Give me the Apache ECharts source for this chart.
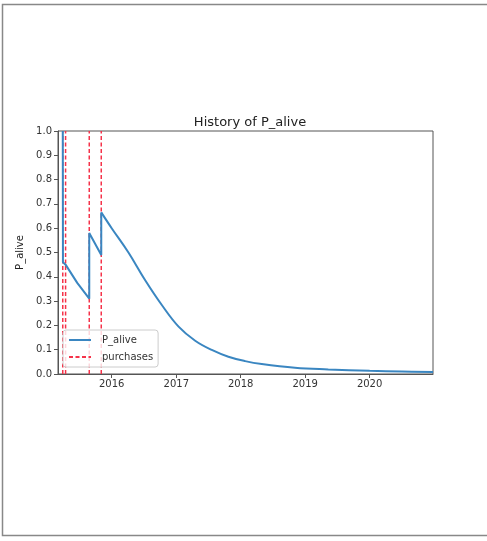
<!DOCTYPE html>
<html>
<head>
<meta charset="utf-8">
<script src="https://cdn.jsdelivr.net/npm/echarts@6/dist/echarts.min.js"></script>
<style>
html,body{margin:0;padding:0;background:#fff;}
#chart{width:487px;height:541px;}
</style>
</head>
<body>
<div id="chart"></div>
<script>
// P_alive history, segment between purchases (date, probability)
const aliveDatesEarly = [
  '2015-03-30', '2015-03-31', '2015-04-15', '2015-06-20', '2015-08-27',
  '2015-08-27', '2015-09-30', '2015-11-03', '2015-11-03'
];
const aliveValuesEarly = [
  1.0, 0.46, 0.45, 0.375, 0.31,
  0.58, 0.535, 0.49, 0.665
];
// P_alive decay after the last purchase
const aliveDatesTail = [
  '2015-11-03', '2016-01-01', '2016-04-05', '2016-07-08', '2016-10-11',
  '2017-01-14', '2017-04-18', '2017-07-21', '2017-10-23', '2018-01-26',
  '2018-04-30', '2018-11-04', '2019-05-12', '2020-01-01', '2020-07-01',
  '2020-12-25'
];
const aliveValuesTail = [
  0.665, 0.60, 0.50, 0.387, 0.284,
  0.195, 0.137, 0.099, 0.071, 0.053,
  0.041, 0.026, 0.019, 0.013, 0.010,
  0.008
];
// purchase dates
const purchaseDates = ['2015-03-30', '2015-04-15', '2015-08-27', '2015-11-03'];
const yTicks = ['0.0','0.1','0.2','0.3','0.4','0.5','0.6','0.7','0.8','0.9','1.0'];

const chart = echarts.init(document.getElementById('chart'));
const FONT = 'DejaVu Sans';
const blue = '#3a86c1';
const red = '#f5334a';

const series = [{
  name: 'P_alive',
  type: 'line',
  data: aliveDatesEarly.map((d, i) => [d, aliveValuesEarly[i]]),
  showSymbol: false,
  symbol: 'none',
  lineStyle: { color: blue, width: 2 },
  itemStyle: { color: blue },
  z: 3
}, {
  name: 'P_alive',
  type: 'line',
  data: aliveDatesTail.map((d, i) => [d, aliveValuesTail[i]]),
  showSymbol: false,
  symbol: 'none',
  smooth: 0.4,
  lineStyle: { color: blue, width: 2 },
  itemStyle: { color: blue },
  z: 3
}];
purchaseDates.forEach(d => {
  series.push({
    name: 'purchases',
    type: 'line',
    data: [[d, 0], [d, 1]],
    showSymbol: false,
    symbol: 'none',
    lineStyle: { color: red, width: 1.5, type: [4, 2.5] },
    itemStyle: { color: red },
    z: 2
  });
});

chart.setOption({
  animation: false,
  backgroundColor: '#fff',
  textStyle: { fontFamily: FONT },
  title: {
    text: 'History of P_alive',
    left: 245, textAlign: 'center',
    top: 111,
    textStyle: { fontFamily: FONT, fontSize: 13, fontWeight: 'normal', color: '#222' }
  },
  grid: { left: 58, right: 54, top: 131, bottom: 167, show: true, borderColor: '#555', borderWidth: 1 },
  legend: {
    orient: 'vertical',
    left: 63, top: 330,
    data: ['P_alive', 'purchases'],
    itemWidth: 22, itemHeight: 10, itemGap: 7,
    padding: [5, 5, 5, 5],
    backgroundColor: 'rgba(255,255,255,0.8)',
    borderColor: '#cccccc', borderWidth: 1, borderRadius: 3,
    itemStyle: { color: 'transparent', borderColor: 'transparent', borderWidth: 0 },
    textStyle: { fontFamily: FONT, fontSize: 10, color: '#333', padding: [0, 0, 0, 6] }
  },
  xAxis: {
    type: 'time',
    min: '2015-03-03', max: '2020-12-25',
    minInterval: 365 * 24 * 3600 * 1000,
    maxInterval: 366 * 24 * 3600 * 1000,
    axisLine: { show: true, lineStyle: { color: '#555' } },
    axisTick: { show: true, inside: false, length: 4, lineStyle: { color: '#555' } },
    axisLabel: {
      fontFamily: FONT, fontSize: 10, color: '#333', margin: 5,
      showMinLabel: false, showMaxLabel: false,
      formatter: function (v) {
        const d = new Date(v);
        return (d.getMonth() === 0 && d.getDate() === 1) ? String(d.getFullYear()) : '';
      }
    },
    splitLine: { show: false }
  },
  yAxis: {
    type: 'value',
    min: 0, max: 1, interval: 0.1,
    name: 'P_alive',
    nameLocation: 'middle',
    nameGap: 29,
    nameTextStyle: { fontFamily: FONT, fontSize: 10, color: '#222' },
    axisLine: { show: true, lineStyle: { color: '#555' } },
    axisTick: { show: true, length: 4, lineStyle: { color: '#555' } },
    axisLabel: {
      fontFamily: FONT, fontSize: 10, color: '#333', margin: 6,
      formatter: function (v) { return yTicks[Math.round(v * 10)]; }
    },
    splitLine: { show: false }
  },
  graphic: [{
    type: 'polyline',
    shape: { points: [[487, 4.5], [2.5, 4.5], [2.5, 535.5], [487, 535.5]] },
    style: { stroke: '#888', lineWidth: 1.5, fill: null },
    silent: true
  }],
  series: series
});
</script>
</body>
</html>
